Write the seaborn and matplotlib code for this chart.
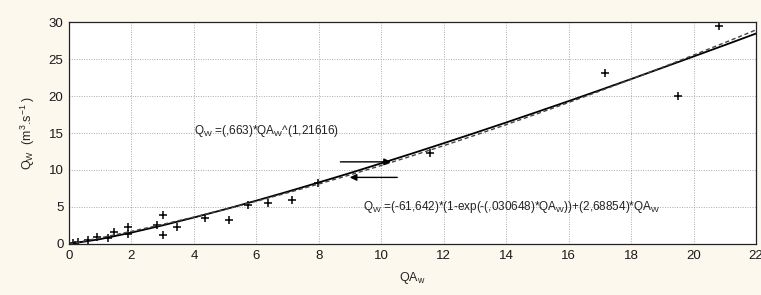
import numpy as np
import pandas as pd
import matplotlib
matplotlib.use("Agg")
import matplotlib.pyplot as plt
import seaborn as sns

qa_obs = [0.14, 0.3, 0.62, 0.89, 1.26, 1.44, 1.9, 1.9, 2.81, 3.02, 3.02, 3.45,
          4.34, 5.13, 5.72, 6.38, 7.15, 7.98, 11.57, 17.18, 19.5, 20.8]
q_obs = [0.1, 0.3, 0.5, 0.9, 0.8, 1.6, 2.3, 1.4, 2.6, 3.9, 1.2, 2.3,
         3.5, 3.3, 5.3, 5.6, 5.9, 8.2, 12.3, 23.1, 20.0, 29.5]

# fitted curves, read at integer QA_w
qa_fit = [0, 1, 2, 3, 4, 5, 6, 7, 8, 9, 10, 11, 12, 13, 14, 15, 16, 17, 18, 19, 20, 21, 22]
q_power = [0.0, 0.66, 1.54, 2.52, 3.58, 4.69, 5.86, 7.07, 8.32, 9.59, 10.91, 12.25,
           13.62, 15.01, 16.42, 17.86, 19.31, 20.79, 22.29, 23.81, 25.34, 26.88, 28.44]
q_exp = [0.0, 0.83, 1.71, 2.65, 3.64, 4.69, 5.78, 6.92, 8.11, 9.34, 10.61, 11.93,
         13.29, 14.69, 16.13, 17.61, 19.12, 20.67, 22.26, 23.87, 25.53, 27.21, 28.93]

x_ticks = list(range(0, 23, 2))
y_ticks = [0, 5, 10, 15, 20, 25, 30]

sns.set_style("whitegrid")
plt.rcParams['font.family'] = ['Liberation Sans', 'DejaVu Sans']

bg = "#fcf8ee"
fig = plt.figure(figsize=(7.61, 2.95), dpi=100, facecolor=bg)
ax = fig.add_axes([0.0907, 0.1729, 0.9027, 0.7525])
ax.set_facecolor("white")

fits = pd.DataFrame({"qa": qa_fit, "power": q_power, "expo": q_exp})
obs = pd.DataFrame({"qa": qa_obs, "q": q_obs})

sns.lineplot(data=fits, x="qa", y="power", color="black", linewidth=1.3, ax=ax)
sns.lineplot(data=fits, x="qa", y="expo", color="#444444", linewidth=1.0,
             linestyle=(0, (3, 2)), ax=ax)
sns.scatterplot(data=obs, x="qa", y="q", marker="+", color="black", s=38,
                linewidth=1.1, ax=ax)

ax.set_xlim(0, 22)
ax.set_ylim(0, 30)
ax.set_xticks(x_ticks)
ax.set_yticks(y_ticks)
ax.tick_params(axis="both", labelsize=9.5, length=0, pad=4, colors="#1a1a1a")
ax.grid(True, color="#aaaaaa", linestyle=(0, (1, 1.5)), linewidth=0.7)
for s in ax.spines.values():
    s.set_color("#222222")
    s.set_linewidth(0.9)

ax.set_xlabel(r"QA$_{\mathregular{w}}$", fontsize=9, labelpad=6)
ax.set_ylabel(r"Q$_{\mathregular{W}}$  (m$^{\mathregular{3}}$.s$^{\mathregular{-1}}$ )",
              fontsize=9, labelpad=8)

ax.text(4.0, 15.3, r"Q$_{\mathregular{W}}$ =(,663)*QA$_{\mathregular{W}}$^(1,21616)",
        fontsize=8.5, va="center", ha="left", color="#222222")
ax.text(9.4, 5.0,
        r"Q$_{\mathregular{W}}$ =(-61,642)*(1-exp(-(,030648)*QA$_{\mathregular{W}}$))+(2,68854)*QA$_{\mathregular{W}}$",
        fontsize=8.5, va="center", ha="left", color="#222222")

ax.annotate("", xy=(10.4, 11.1), xytext=(8.6, 11.1),
            arrowprops=dict(arrowstyle="-|>", color="black", lw=1.0))
ax.annotate("", xy=(8.9, 9.0), xytext=(10.6, 9.0),
            arrowprops=dict(arrowstyle="-|>", color="black", lw=1.0))

fig.savefig("out.png", dpi=100, facecolor=bg)
